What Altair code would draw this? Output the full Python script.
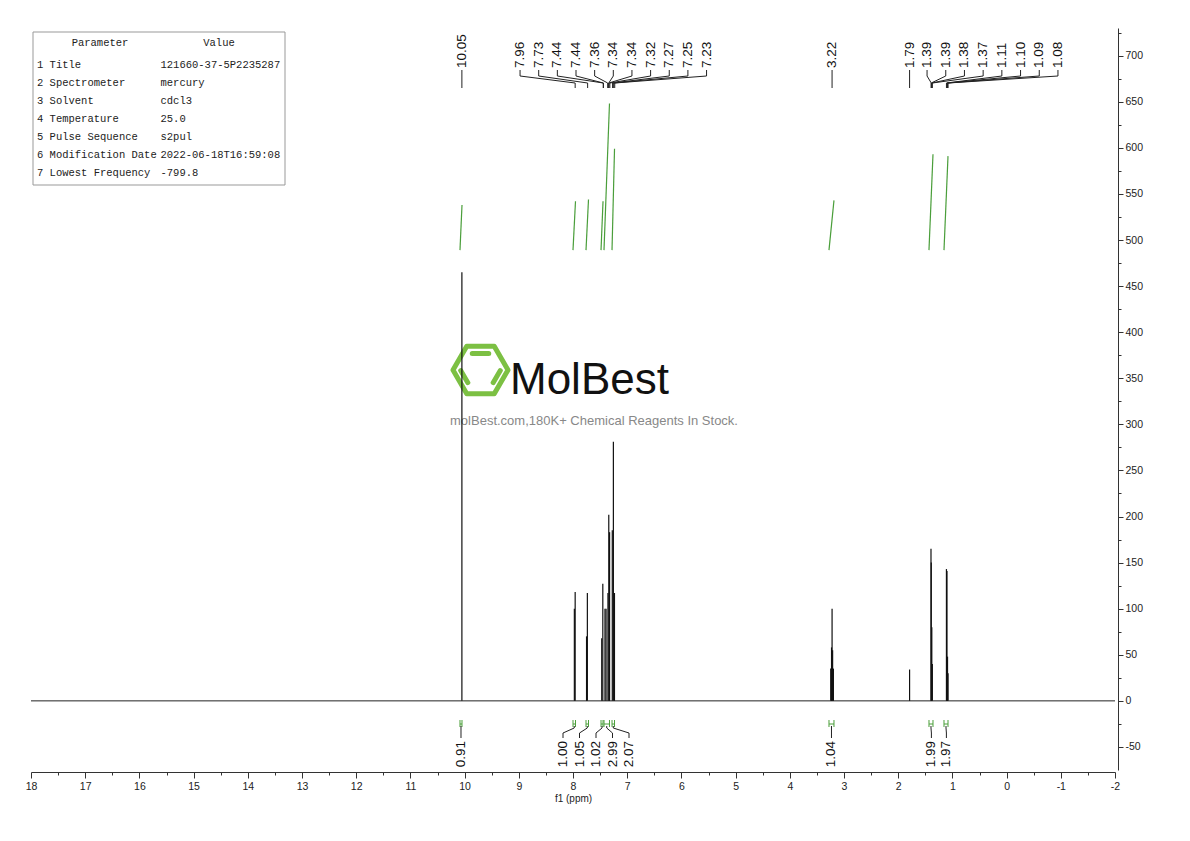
import altair as alt
import pandas as pd

# ---------------- data ----------------
param_names = ["1 Title", "2 Spectrometer", "3 Solvent", "4 Temperature",
               "5 Pulse Sequence", "6 Modification Date", "7 Lowest Frequency"]
param_values = ["121660-37-5P2235287", "mercury", "cdcl3", "25.0",
                "s2pul", "2022-06-18T16:59:08", "-799.8"]

# spectrum lines (chemical shift in ppm, intensity)
peak_ppm = [10.05,
            7.975, 7.96, 7.75, 7.735,
            7.47, 7.45, 7.41, 7.39, 7.355, 7.34, 7.325, 7.275, 7.255, 7.235,
            3.245, 3.23, 3.22, 3.21, 3.195,
            1.79,
            1.395, 1.39, 1.38, 1.37,
            1.11, 1.10, 1.09, 1.08]
peak_height = [465,
               100, 118, 70, 117,
               68, 127, 100, 100, 117, 202, 183, 185, 281, 117,
               35, 58, 100, 55, 35,
               34,
               165, 150, 80, 40,
               143, 141, 48, 30]

# integral regions (ppm from/to), integral curve levels, integral values
int_ppm_start = [10.085, 8.000, 7.760, 7.483, 7.428, 7.280, 3.277, 1.432, 1.155]
int_ppm_end = [10.048, 7.954, 7.714, 7.446, 7.327, 7.234, 3.185, 1.358, 1.081]
int_curve_low = [489, 489, 489, 489, 489, 489, 489, 489, 489]
int_curve_high = [538, 542, 544, 542, 648, 599, 543, 593, 591]
int_values = ["0.91", "1.00", "1.05", "1.02", "2.99", "2.07", "1.04", "1.99", "1.97"]

# peak-picking labels
shift_single = ["10.05", "3.22", "1.79"]
shift_group_a = ["7.96", "7.73", "7.44", "7.44", "7.36", "7.34", "7.34", "7.32", "7.27", "7.25", "7.23"]
shift_group_b = ["1.39", "1.39", "1.38", "1.37", "1.11", "1.10", "1.09", "1.08"]

x_tick_values = [18 - 0.5 * i for i in range(41)]
y_tick_values = [-50 + 25 * i for i in range(32)]

# ---------------- layout helpers ----------------
X_LEFT = 31
PLOT_W = 1084
TOP = 28
PLOT_H = 742
X_MAX, X_MIN = 18, -2
Y_MIN, Y_MAX = -75, 730


def px2ppm(px):
    return X_MAX - (px - X_LEFT) / PLOT_W * (X_MAX - X_MIN)


def py2val(py):
    return Y_MAX - (py - TOP) / PLOT_H * (Y_MAX - Y_MIN)


AXF = "Liberation Sans, Arial, sans-serif"
SANS = "Liberation Sans, Arial, sans-serif"
MONO = "Liberation Mono, DejaVu Sans Mono, monospace"
GREEN = "#4a9e3a"

XS = alt.Scale(domain=[X_MAX, X_MIN], nice=False, zero=False)
YS = alt.Scale(domain=[Y_MIN, Y_MAX], nice=False, zero=False)

x_is_major = "abs(datum.value - round(datum.value)) < 0.01"
XAX = alt.Axis(values=x_tick_values, title="f1 (ppm)", grid=False,
               labelExpr=f"{x_is_major} ? '' + datum.value : ''",
               tickSize={"condition": {"test": x_is_major, "value": 6}, "value": 3},
               domainColor="#333", tickColor="#333", labelColor="#222",
               labelFont=AXF, labelFontSize=10.5, labelPadding=3,
               labelOverlap=False, labelFlush=False,
               titleFont=AXF, titleFontSize=10, titleFontWeight="normal",
               titleColor="#222", titlePadding=2, offset=2)
y_is_major = "datum.value % 50 === 0"
YAX = alt.Axis(orient="right", values=y_tick_values, title=None, grid=False,
               labelExpr=f"{y_is_major} ? '' + datum.value : ''",
               tickSize={"condition": {"test": y_is_major, "value": 5}, "value": 3},
               domainColor="#333", tickColor="#333", labelColor="#222",
               labelFont=AXF, labelFontSize=10.5, labelPadding=2,
               labelOverlap=False, labelFlush=False, offset=3)


def enc_xy(extra=None):
    e = dict(x=alt.X("x:Q", scale=XS, axis=XAX), y=alt.Y("y:Q", scale=YS, axis=YAX))
    if extra:
        e.update(extra)
    return e


def rules(df, **mark):
    return alt.Chart(df).mark_rule(**mark).encode(**enc_xy(dict(x2="x2:Q", y2="y2:Q")))


# ---------------- parameter table ----------------
box = pd.DataFrame([dict(x=px2ppm(33), x2=px2ppm(285), y=py2val(32), y2=py2val(185))])
box_layer = alt.Chart(box).mark_rect(fill="white", fillOpacity=1, stroke="#999",
                                     strokeWidth=1).encode(**enc_xy(dict(x2="x2:Q", y2="y2:Q")))
head = pd.DataFrame([dict(x=px2ppm(100), y=py2val(43), t="Parameter"),
                     dict(x=px2ppm(219), y=py2val(43), t="Value")])
head_layer = alt.Chart(head).mark_text(font=MONO, fontSize=10.5, color="#222",
                                       align="center", baseline="middle").encode(**enc_xy(dict(text="t:N")))
rows = []
for i, (n, v) in enumerate(zip(param_names, param_values)):
    yy = py2val(64.7 + 18.05 * i)
    rows.append(dict(x=px2ppm(37), y=yy, t=n))
    rows.append(dict(x=px2ppm(160.5), y=yy, t=v))
rows_layer = alt.Chart(pd.DataFrame(rows)).mark_text(font=MONO, fontSize=10.5, color="#222",
                                                     align="left", baseline="middle").encode(**enc_xy(dict(text="t:N")))

# ---------------- watermark ----------------
HEX = ("M-1,0L-0.5,-0.866L0.5,-0.866L1,0L0.5,0.866L-0.5,0.866Z"
       "M-0.3,-0.6L0.3,-0.6M0.72,0.02L0.46,0.46M-0.72,0.02L-0.46,0.46")
hex_layer = alt.Chart(pd.DataFrame([dict(x=px2ppm(480.5), y=py2val(370))])).mark_point(
    shape=HEX, size=3025, filled=False, stroke="#7cc043", strokeWidth=5, opacity=1,
    strokeCap="round", strokeJoin="round").encode(**enc_xy())
logo_layer = alt.Chart(pd.DataFrame([dict(x=px2ppm(510), y=py2val(394), t="MolBest")])).mark_text(
    font=SANS, fontSize=44, color="#111", align="left", baseline="alphabetic").encode(**enc_xy(dict(text="t:N")))
sub_layer = alt.Chart(pd.DataFrame([dict(x=px2ppm(594), y=py2val(421),
                                         t="molBest.com,180K+ Chemical Reagents In Stock.")])).mark_text(
    font=SANS, fontSize=13, color="#888", align="center", baseline="middle").encode(**enc_xy(dict(text="t:N")))

# ---------------- spectrum ----------------
base = pd.DataFrame([dict(x=X_MAX, x2=X_MIN, y=0, y2=0)])
base_layer = rules(base, color="#222", strokeWidth=1)
peaks = pd.DataFrame(dict(x=peak_ppm, x2=peak_ppm, y=[0] * len(peak_ppm), y2=peak_height))
peak_layer = rules(peaks, color="#111", strokeWidth=1.2)

# integral curves
icurve = pd.DataFrame(dict(x=int_ppm_start, x2=int_ppm_end, y=int_curve_low, y2=int_curve_high))
icurve_layer = rules(icurve, color=GREEN, strokeWidth=1.2)

# integral markers below baseline
mk = []
for a, b in zip(int_ppm_start, int_ppm_end):
    mk.append(dict(x=a, x2=b, y=py2val(724), y2=py2val(724)))
    mk.append(dict(x=a, x2=a, y=py2val(720), y2=py2val(727)))
    mk.append(dict(x=b, x2=b, y=py2val(720), y2=py2val(727)))
mk_layer = rules(pd.DataFrame(mk), color=GREEN, strokeWidth=1)

# ---------------- peak labels (top) ----------------
top_text, top_conn = [], []


def add_top(label, lx, pk):
    top_text.append(dict(x=lx, y=py2val(68), t=label))
    top_conn.append(dict(x=lx, x2=lx, y=py2val(70), y2=py2val(76)))
    top_conn.append(dict(x=lx, x2=pk, y=py2val(76), y2=py2val(83)))
    top_conn.append(dict(x=pk, x2=pk, y=py2val(83), y2=py2val(88)))


for s in shift_single:
    add_top(s, float(s), float(s))
for labels, center_px, step in [(shift_group_a, 613.3, 18.65), (shift_group_b, 992.5, 18.7)]:
    n = len(labels)
    for i, s in enumerate(labels):
        add_top(s, px2ppm(center_px + (i - (n - 1) / 2) * step), float(s))

top_text_layer = alt.Chart(pd.DataFrame(top_text)).mark_text(
    font=SANS, fontSize=13.5, color="#111", angle=270, align="left", baseline="middle"
).encode(**enc_xy(dict(text="t:N")))
top_conn_layer = rules(pd.DataFrame(top_conn), color="#222", strokeWidth=1)

# ---------------- integral labels (bottom) ----------------
bot_text, bot_conn = [], []
centers = [(a + b) / 2 for a, b in zip(int_ppm_start, int_ppm_end)]


def add_bot(label, lx, m):
    bot_text.append(dict(x=lx, y=py2val(741), t=label))
    bot_conn.append(dict(x=lx, x2=lx, y=py2val(738), y2=py2val(733)))
    bot_conn.append(dict(x=lx, x2=m, y=py2val(733), y2=py2val(728)))
    bot_conn.append(dict(x=m, x2=m, y=py2val(728), y2=py2val(726)))


groups = [([0], None, None), ([1, 2, 3, 4, 5], 596.0, 16.5), ([6], None, None), ([7, 8], 938.9, 15.0)]
for idx, cpx, step in groups:
    n = len(idx)
    for j, k in enumerate(idx):
        lx = centers[k] if cpx is None else px2ppm(cpx + (j - (n - 1) / 2) * step)
        add_bot(int_values[k], lx, centers[k])

bot_text_layer = alt.Chart(pd.DataFrame(bot_text)).mark_text(
    font=SANS, fontSize=13.5, color="#111", angle=270, align="right", baseline="middle"
).encode(**enc_xy(dict(text="t:N")))
bot_conn_layer = rules(pd.DataFrame(bot_conn), color="#222", strokeWidth=1)

chart = alt.layer(
    box_layer, head_layer, rows_layer,
    hex_layer, logo_layer, sub_layer,
    icurve_layer, mk_layer,
    base_layer, peak_layer,
    top_conn_layer, top_text_layer,
    bot_conn_layer, bot_text_layer,
).properties(
    width=PLOT_W, height=PLOT_H,
    padding={"left": X_LEFT - 8, "top": TOP - 8, "right": 60, "bottom": 50},
    autosize=alt.AutoSizeParams(type="none"),
    background="white",
).configure_view(stroke=None)

chart.save("out.html", embed_options={"renderer": "svg", "actions": False})
